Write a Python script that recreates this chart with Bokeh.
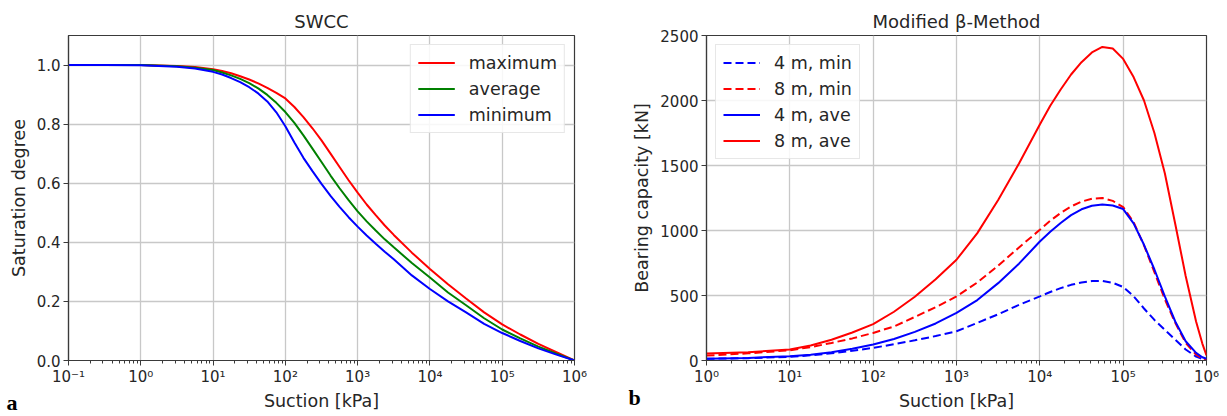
from bokeh.plotting import figure
from bokeh.layouts import row
from bokeh.models import (Range1d, FixedTicker, CustomJSTickFormatter, Label, Legend,
                          LegendItem, NumeralTickFormatter)
from bokeh.embed import file_html
from bokeh.resources import INLINE

FONT = "DejaVu Sans"

# ---------------- data: SWCC (left) ----------------
swcc_exp = [-1, -0.5, 0, 0.5, 0.75, 1, 1.125, 1.25, 1.375, 1.5, 1.625, 1.75, 1.875,
            2, 2.125, 2.25, 2.375, 2.5, 2.625, 2.75, 2.875, 3, 3.125, 3.25, 3.375,
            3.5, 3.75, 4, 4.25, 4.5, 4.75, 5, 5.25, 5.5, 5.75, 6]
swcc_suction = [10 ** e for e in swcc_exp]
sat_maximum = [1.0, 1.0, 1.0, 0.997, 0.993, 0.986, 0.980, 0.972, 0.962, 0.951, 0.938,
               0.923, 0.906, 0.887, 0.858, 0.824, 0.786, 0.745, 0.700, 0.655, 0.610,
               0.568, 0.528, 0.492, 0.457, 0.425, 0.365, 0.310, 0.258, 0.210, 0.163,
               0.122, 0.088, 0.056, 0.028, 0.0]
sat_average = [1.0, 1.0, 1.0, 0.996, 0.991, 0.983, 0.975, 0.965, 0.953, 0.939, 0.921,
               0.899, 0.872, 0.841, 0.804, 0.762, 0.717, 0.672, 0.626, 0.583, 0.543,
               0.505, 0.471, 0.440, 0.410, 0.383, 0.330, 0.281, 0.230, 0.187, 0.143,
               0.105, 0.075, 0.047, 0.023, 0.0]
sat_minimum = [1.0, 1.0, 0.999, 0.994, 0.988, 0.977, 0.968, 0.956, 0.942, 0.925, 0.904,
               0.877, 0.840, 0.793, 0.738, 0.686, 0.641, 0.598, 0.557, 0.520, 0.485,
               0.453, 0.423, 0.395, 0.368, 0.343, 0.288, 0.242, 0.200, 0.163, 0.124,
               0.093, 0.066, 0.041, 0.020, 0.0]

# ---------------- data: modified beta-method (right) ----------------
beta_exp = [0, 0.5, 1, 1.25, 1.5, 1.75, 2, 2.25, 2.5, 2.75, 3, 3.25, 3.5, 3.75, 4,
            4.125, 4.25, 4.375, 4.5, 4.625, 4.75, 4.875, 5, 5.125, 5.25, 5.375, 5.5,
            5.625, 5.75, 5.875, 5.95, 6]
beta_suction = [10 ** e for e in beta_exp]
q_4m_min = [13, 18, 28, 40, 55, 75, 97, 125, 155, 188, 225, 290, 355, 428, 493,
            527, 557, 582, 600, 611, 612, 598, 565, 495, 400, 312, 235, 160, 85, 30,
            12, 8]
q_8m_min = [38, 55, 79, 103, 135, 170, 212, 262, 335, 410, 493, 600, 730, 870, 1005,
            1075, 1135, 1185, 1222, 1245, 1250, 1228, 1180, 1065, 885, 680, 470, 290,
            135, 45, 18, 8]
q_4m_ave = [13, 20, 33, 45, 64, 90, 123, 165, 220, 285, 366, 465, 595, 745, 915,
            990, 1058, 1118, 1163, 1190, 1200, 1192, 1165, 1055, 890, 700, 493, 300,
            148, 59, 25, 13]
q_8m_ave = [54, 64, 84, 115, 160, 215, 280, 375, 490, 625, 775, 980, 1235, 1515, 1815,
            1960, 2085, 2200, 2295, 2370, 2412, 2400, 2320, 2180, 2000, 1750, 1440,
            1050, 650, 300, 130, 40]

swcc_yticks = [0.0, 0.2, 0.4, 0.6, 0.8, 1.0]
beta_yticks = [0, 500, 1000, 1500, 2000, 2500]

RED, GREEN, BLUE = "#ff0000", "#008000", "#0000ff"

sup_fmt = CustomJSTickFormatter(code="""
const e = Math.round(Math.log10(tick));
const m = {'-':'\u207b','0':'\u2070','1':'\u00b9','2':'\u00b2','3':'\u00b3',
           '4':'\u2074','5':'\u2075','6':'\u2076','7':'\u2077','8':'\u2078','9':'\u2079'};
return '10' + String(e).split('').map(c => m[c]).join('');
""")


def decades(lo, hi):
    major = [10.0 ** d for d in range(lo, hi + 1)]
    minor = [k * 10.0 ** d for d in range(lo, hi) for k in range(2, 10)]
    return major, minor


def style(p, lo, hi, yticks):
    major, minor = decades(lo, hi)
    p.xaxis.ticker = FixedTicker(ticks=major, minor_ticks=minor)
    p.xaxis.formatter = sup_fmt
    p.yaxis.ticker = FixedTicker(ticks=yticks)
    for ax in (p.xaxis, p.yaxis):
        ax.axis_line_color = "#3a3a3a"
        ax.axis_line_width = 1.2
        ax.major_tick_line_color = "#3a3a3a"
        ax.major_tick_out = 5
        ax.major_tick_in = 0
        ax.minor_tick_line_color = "#3a3a3a"
        ax.minor_tick_out = 3
        ax.minor_tick_in = 0
        ax.major_label_text_font = FONT
        ax.major_label_text_font_size = "15px"
        ax.major_label_text_color = "#262626"
        ax.axis_label_text_font = FONT
        ax.axis_label_text_font_size = "17.5px"
        ax.axis_label_text_font_style = "normal"
        ax.axis_label_text_color = "#262626"
    p.yaxis.minor_tick_line_color = None
    p.xaxis.major_label_standoff = 2
    p.xaxis.axis_label_standoff = 2
    p.yaxis.major_label_standoff = 3
    p.yaxis.axis_label_standoff = 5
    p.xgrid.grid_line_color = "#c8c8c8"
    p.ygrid.grid_line_color = "#c8c8c8"
    p.xgrid.grid_line_width = 1.3
    p.ygrid.grid_line_width = 1.3
    p.outline_line_color = "#3a3a3a"
    p.outline_line_width = 1.2
    p.title.text_font = FONT
    p.title.text_font_size = "18px"
    p.title.text_font_style = "normal"
    p.title.text_color = "#262626"
    p.title.align = "center"
    p.title.standoff = 7
    p.background_fill_color = "white"
    p.border_fill_color = "white"


def style_legend(leg, loc):
    leg.location = loc
    leg.margin = 9
    leg.padding = 7
    leg.spacing = 5
    leg.label_height = 21
    leg.glyph_height = 21
    leg.glyph_width = 37
    leg.label_standoff = 14
    leg.label_text_font = FONT
    leg.label_text_font_size = "17.5px"
    leg.label_text_color = "#262626"
    leg.border_line_color = "#d0d0d0"
    leg.border_line_width = 1
    leg.background_fill_color = "white"
    leg.background_fill_alpha = 0.85


def panel_letter(text, x, y):
    return Label(x=x, y=y, x_units="screen", y_units="screen", text=text,
                 text_font="Liberation Serif", text_font_style="bold",
                 text_font_size="22px", text_color="black",
                 text_baseline="alphabetic")


# ---------------- left: SWCC ----------------
p1 = figure(width=620, height=416, x_axis_type="log",
            x_range=Range1d(0.1, 1e6), y_range=Range1d(0, 1.1),
            title="SWCC", toolbar_location=None, output_backend="svg",
            min_border_left=68, min_border_right=46, min_border_top=35,
            min_border_bottom=56,
            x_axis_label="Suction [kPa]", y_axis_label="Saturation degree")
style(p1, -1, 6, swcc_yticks)
p1.yaxis.formatter = NumeralTickFormatter(format="0.0")
r_max = p1.line(swcc_suction, sat_maximum, line_color=RED, line_width=2)
r_ave = p1.line(swcc_suction, sat_average, line_color=GREEN, line_width=2)
r_min = p1.line(swcc_suction, sat_minimum, line_color=BLUE, line_width=2)
leg1 = Legend(items=[LegendItem(label="maximum", renderers=[r_max]),
                     LegendItem(label="average", renderers=[r_ave]),
                     LegendItem(label="minimum", renderers=[r_min])])
style_legend(leg1, "top_right")
p1.add_layout(leg1)
p1.add_layout(panel_letter("a", -568, -42), "right")

# ---------------- right: modified beta-method ----------------
p2 = figure(width=607, height=416, x_axis_type="log",
            x_range=Range1d(1, 1e6), y_range=Range1d(0, 2500),
            title="Modified β-Method", toolbar_location=None, output_backend="svg",
            min_border_left=86, min_border_right=21, min_border_top=35,
            min_border_bottom=56,
            x_axis_label="Suction [kPa]", y_axis_label="Bearing capacity [kN]")
style(p2, 0, 6, beta_yticks)
d4min = p2.line(beta_suction, q_4m_min, line_color=BLUE, line_width=2, line_dash="8 4")
d8min = p2.line(beta_suction, q_8m_min, line_color=RED, line_width=2, line_dash="8 4")
s4ave = p2.line(beta_suction, q_4m_ave, line_color=BLUE, line_width=2)
s8ave = p2.line(beta_suction, q_8m_ave, line_color=RED, line_width=2)
leg2 = Legend(items=[LegendItem(label="4 m, min", renderers=[d4min]),
                     LegendItem(label="8 m, min", renderers=[d8min]),
                     LegendItem(label="4 m, ave", renderers=[s4ave]),
                     LegendItem(label="8 m, ave", renderers=[s8ave])])
style_legend(leg2, "top_left")
p2.add_layout(leg2)
p2.add_layout(panel_letter("b", -578, -37), "right")

layout = row(p1, p2)
open("out.html", "w").write(file_html(layout, INLINE))
